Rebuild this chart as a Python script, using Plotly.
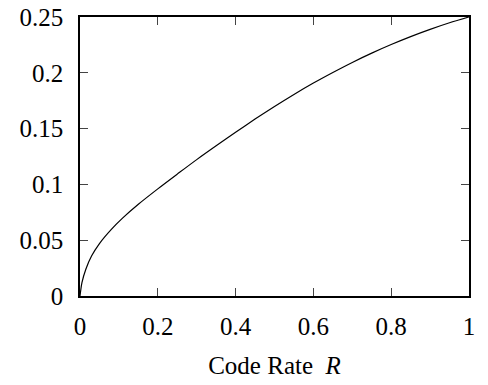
import plotly.graph_objects as go

# Values
rate = [0, 0.005, 0.015, 0.03, 0.05, 0.08, 0.11, 0.15, 0.2, 0.25, 0.3, 0.35, 0.4, 0.45, 0.5,
        0.55, 0.6, 0.65, 0.7, 0.75, 0.8, 0.85, 0.9, 0.95, 1.0]
value = [0, 0.012, 0.024, 0.036, 0.047, 0.0595, 0.070, 0.0822, 0.096, 0.1092, 0.1222, 0.1346,
         0.1467, 0.1585, 0.1698, 0.1806, 0.1908, 0.2003, 0.2093, 0.2176, 0.2253, 0.2324,
         0.2389, 0.2448, 0.25]

x_ticks = [0, 0.2, 0.4, 0.6, 0.8, 1]
x_labels = ["0", "0.2", "0.4", "0.6", "0.8", "1"]
y_ticks = [0, 0.05, 0.1, 0.15, 0.2, 0.25]
y_labels = ["0", "0.05", "0.1", "0.15", "0.2", "0.25"]

font = dict(family="Liberation Serif, Times New Roman, serif", size=25, color="black")

fig = go.Figure()
fig.add_trace(go.Scatter(x=rate, y=value, mode="lines",
                         line=dict(color="black", width=1.2, shape="spline", smoothing=0.8),
                         showlegend=False, hoverinfo="skip"))

axis_common = dict(showgrid=False, zeroline=False, showline=True, linecolor="black", linewidth=1.5,
                   mirror="ticks", ticks="inside", ticklen=8, tickwidth=1.3, tickcolor="#444",
                   tickfont=font, automargin=False, ticklabeloverflow="allow")

fig.update_xaxes(range=[0, 1], tickvals=x_ticks, ticktext=x_labels, ticklabelstandoff=7,
                 title=dict(text="Code Rate  <i>R</i>", font=font, standoff=18), **axis_common)
fig.update_yaxes(range=[0, 0.25], tickvals=y_ticks, ticktext=y_labels, ticklabelstandoff=10,
                 **axis_common)

fig.update_layout(width=488, height=385, margin=dict(l=80, r=19, t=17, b=89),
                  plot_bgcolor="white", paper_bgcolor="white", font=font)

fig.write_html("out.html", config={"displayModeBar": False},
               post_script="document.body.style.margin='0px';")
